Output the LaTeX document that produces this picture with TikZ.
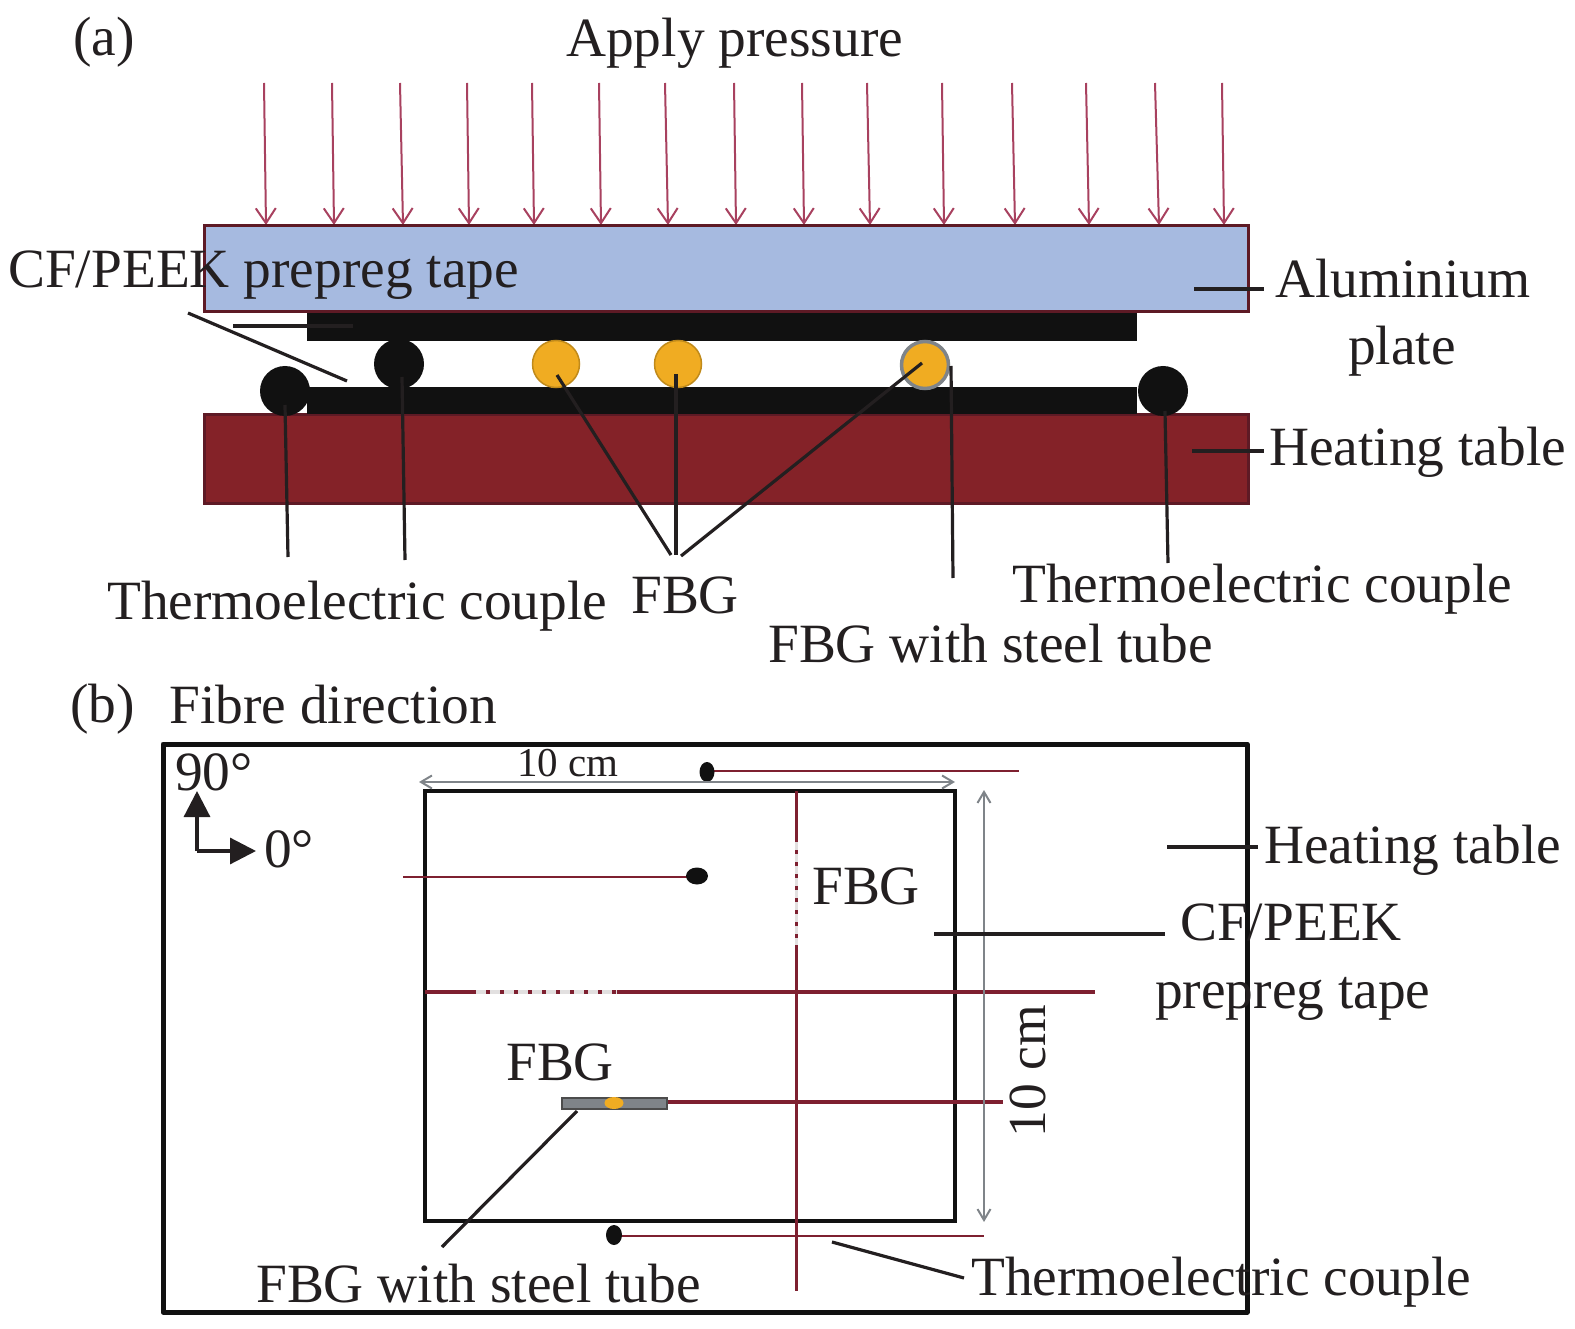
\documentclass[tikz,border=0pt]{standalone}
\usepackage{fontspec}
\setmainfont{Liberation Serif}
\usetikzlibrary{arrows.meta,calc,positioning,shapes.geometric}
\definecolor{Ink}{HTML}{231F20}
\definecolor{Coal}{HTML}{111111}
\definecolor{Plate}{HTML}{A6BAE0}
\definecolor{Table}{HTML}{842228}
\definecolor{Edge}{HTML}{5E1A25}
\definecolor{Wire}{HTML}{7E2030}
\definecolor{Press}{HTML}{A8415F}
\definecolor{Amber}{HTML}{F0AC22}
\definecolor{Steel}{HTML}{7F8489}
\definecolor{Mist}{HTML}{E2E0E0}
\tikzset{
  label/.style={anchor=base west,text=Ink,inner sep=0pt,font=\fontsize{55.4}{60}\selectfont},
  leader/.style={draw=Ink,line width=3.2pt},
  dimline/.style={draw=Steel,line width=2pt,{Straight Barb[length=11pt,width=13pt]}-{Straight Barb[length=11pt,width=13pt]}},
  bead/.style={circle,fill=Coal,minimum size=50pt,inner sep=0pt},
  grating/.style={circle,fill=Amber,draw=Amber!80!black,line width=1.5pt,minimum size=47pt,inner sep=0pt},
  tip/.style={ellipse,fill=Coal,inner sep=0pt},
  wire/.style={draw=Wire,line width=2.6pt},
  fibre/.style={draw=Wire,line width=3.6pt},
  axis/.style={draw=Ink,line width=3.2pt,-{Triangle[length=26pt,width=26pt]}}
}
\begin{document}
\begin{tikzpicture}[x=1pt,y=-1pt]
    \useasboundingbox (0,0) rectangle (1575,1329);

    % (a) press stack
    \foreach \xa/\xb in {264/266,332/334,400/403,467/469,532/534,599/601,665/668,734/736,802/804,867/870,942/944,1012/1015,1086/1089,1155/1159,1222/1224}
      \draw[Press,line width=2pt,-{Straight Barb[length=15pt,width=20pt]}] (\xa,83) -- (\xb,225);

    \draw[draw=Edge,fill=Plate,line width=3pt] (204,226) rectangle (1248,312);
    \draw[draw=Edge,fill=Table,line width=3pt] (204,415) rectangle (1248,503);
    \fill[Coal] (307,313) rectangle (1137,341);
    \fill[Coal] (307,387) rectangle (1137,414);

    \node[bead] (tc1) at (285,391) {};
    \node[bead] (tc2) at (399,364) {};
    \node[grating] (fbg1) at (556,364) {};
    \node[grating] (fbg2) at (678,364) {};
    \node[grating,draw=Steel,line width=3.5pt] (fbg3) at (925,365) {};
    \node[bead] (tc3) at (1163,391) {};

    \node[label] (capa) at (73,56) {(a)};
    \node[label] (press) at (566,57) {Apply pressure};
    \node[label] (tape) at (8,288) {CF/PEEK prepreg tape};
    \node[label] (alu) at (1275,298) {Aluminium};
    \node[label,anchor=base] (alub) at (1402,365) {plate};
    \node[label] (heat) at (1269,466) {Heating table};
    \node[label] (couple1) at (107,619) {Thermoelectric couple};
    \node[label] (fbglabel) at (631,613) {FBG};
    \node[label] (couple2) at (1012,602) {Thermoelectric couple};
    \node[label] (tube) at (768,662) {FBG with steel tube};

    \draw[leader] (188,313) -- (347,381);
    \draw[leader] (233,326) -- (353,326);
    \draw[leader] ($(tc1)+(0,14)$) -- (288,557);
    \draw[leader] ($(tc2)+(3,13)$) -- (405,560);
    \draw[leader] ($(fbg1)+(1,11)$) -- (671,555);
    \draw[leader] ($(fbg2)+(-2,10)$) -- (676,555);
    \draw[leader] ($(fbg3)+(-3,-2)$) -- (681,556);
    \draw[leader] ($(fbg3)+(26,1)$) -- (953,578);
    \draw[leader] ($(tc3)+(2,20)$) -- (1168,563);
    \draw[leader] (1194,289) -- (1264,289);
    \draw[leader] (1192,451) -- (1264,451);

    % (b) layup from above
    \draw[draw=Coal,line width=5pt,line join=round] (163,744) rectangle (1247,1312);
    \draw[draw=Coal,line width=3.4pt] (425,791) rectangle (955,1221);

    \draw[wire] (711,771) -- (1019,771);
    \draw[wire] (403,877) -- (692,877);
    \draw[wire] (618,1236) -- (984,1236);
    \node[tip,minimum width=15pt,minimum height=20pt] (dot1) at (707,772) {};
    \node[tip,minimum width=22pt,minimum height=17pt] (dot2) at (697,876) {};
    \node[tip,minimum width=16pt,minimum height=20pt] (dot3) at (614,1235) {};

    \draw[fibre] (796.5,791) -- (796.5,842);
    \draw[fibre] (796.5,945) -- (796.5,1291);
    \draw[draw=Mist,line width=3.6pt] (796.5,842) -- (796.5,945);
    \draw[draw=Wire,line width=3.6pt,dash pattern=on 4pt off 8pt] (796.5,850) -- (796.5,945);
    \draw[fibre] (425,992) -- (476,992);
    \draw[fibre] (617,992) -- (1095,992);
    \draw[draw=Mist,line width=3.6pt] (476,992) -- (617,992);
    \draw[draw=Wire,line width=3.6pt,dash pattern=on 4pt off 10pt] (486,992) -- (617,992);
    \draw[fibre] (667,1102) -- (1003,1102);
    \draw[draw=black!70,fill=Steel,line width=1.4pt] (562,1098) rectangle (667,1109);
    \node[ellipse,fill=Amber,minimum width=19pt,minimum height=12pt,inner sep=0pt] (tubefbg) at (614,1103) {};

    \draw[dimline] (419,782) -- (955,782);
    \draw[dimline] (984,790) -- (984,1222);

    \coordinate (origin) at (197,851);
    \draw[axis] (origin) -- (197,791);
    \draw[axis] (origin) -- (256,851);

    \node[label] (capb) at (70,722) {(b)};
    \node[label] (dir) at (169,723) {Fibre direction};
    \node[label] (ang90) at (175,790) {90°};
    \node[label] (ang0) at (264,867) {0°};
    \node[label,font=\fontsize{41}{44}\selectfont] (topdim) at (517,776) {10 cm};
    \node[label,rotate=90,anchor=base,font=\fontsize{53.5}{58}\selectfont] (sidedim) at (1045,1071) {10 cm};
    \node[label] (fbgtop) at (812,904) {FBG};
    \node[label] (fbglow) at (506,1080) {FBG};
    \node[label] (heatb) at (1264,863) {Heating table};
    \node[label] (cfa) at (1180,940) {CF/PEEK};
    \node[label] (cfb) at (1155,1008) {prepreg tape};
    \node[label] (tubeb) at (256,1302) {FBG with steel tube};
    \node[label] (coupleb) at (971,1295) {Thermoelectric couple};

    \draw[leader] (577,1111) -- (442,1247);
    \draw[leader] (832,1242) -- (964,1278);
    \draw[leader] (1167,847) -- (1258,847);
    \draw[leader] (934,934) -- (1165,934);
\end{tikzpicture}
\end{document}
